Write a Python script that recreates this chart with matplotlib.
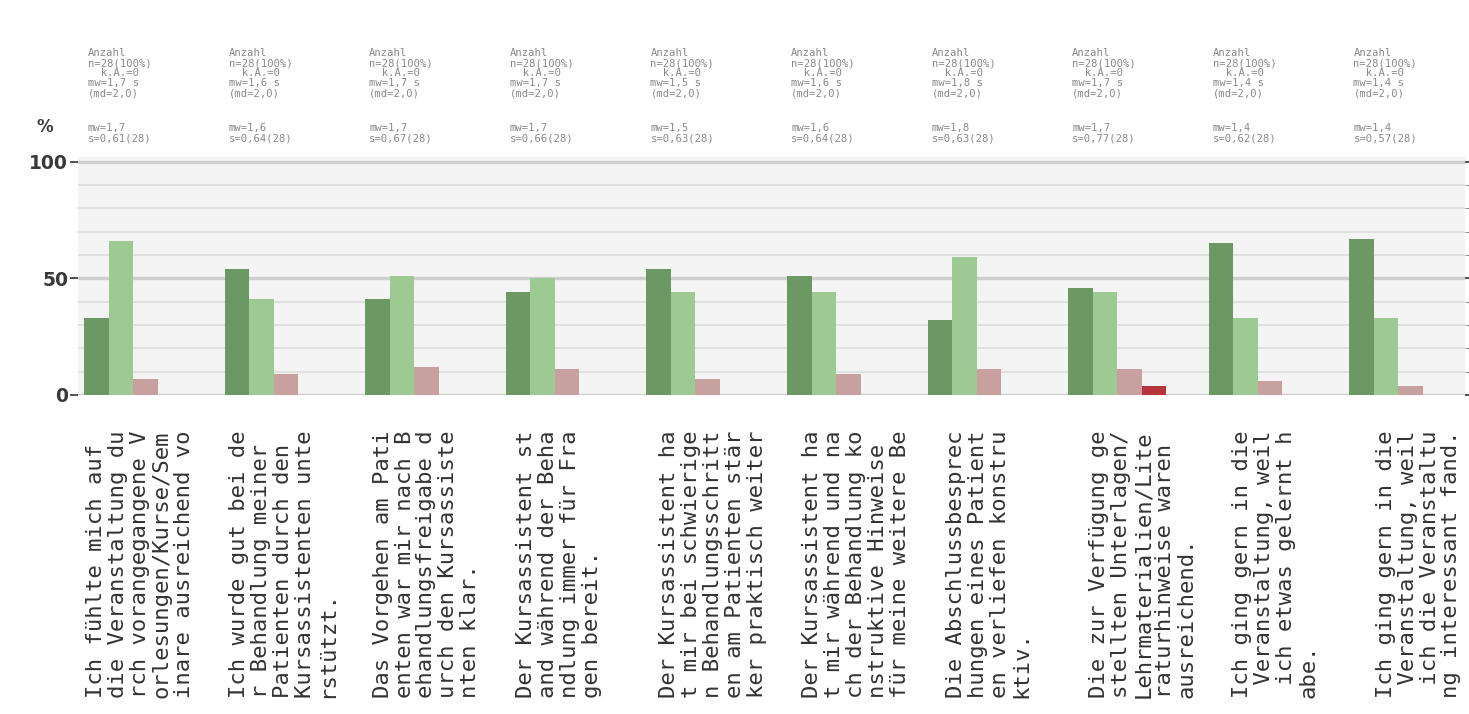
import matplotlib.pyplot as plt
from matplotlib.transforms import blended_transform_factory

# survey items (German, wrapped every 20 characters, cut at 100 like the source)
questions = [
    "Ich fühlte mich auf die Veranstaltung durch vorangegangene Vorlesungen/Kurse/Seminare ausreichend vorbereitet.",
    "Ich wurde gut bei der Behandlung meiner Patienten durch den Kursassistenten unterstützt.",
    "Das Vorgehen am Patienten war mir nach Behandlungsfreigabe durch den Kursassistenten klar.",
    "Der Kursassistent stand während der Behandlung immer für Fragen bereit.",
    "Der Kursassistent hat mir bei schwierigen Behandlungsschritten am Patienten stärker praktisch weitergeholfen.",
    "Der Kursassistent hat mir während und nach der Behandlung konstruktive Hinweise für meine weitere Behandlung gegeben.",
    "Die Abschlussbesprechungen eines Patienten verliefen konstruktiv.",
    "Die zur Verfügung gestellten Unterlagen/Lehrmaterialien/Literaturhinweise waren ausreichend.",
    "Ich ging gern in die Veranstaltung, weil ich etwas gelernt habe.",
    "Ich ging gern in die Veranstaltung, weil ich die Veranstaltung interessant fand.",
]

# percent answers per item
trifft_zu = [33, 54, 41, 44, 54, 51, 32, 46, 65, 67]
eher_zu = [66, 41, 51, 50, 44, 44, 59, 44, 33, 33]
eher_nicht = [7, 9, 12, 11, 7, 9, 11, 11, 6, 4]
nicht_zu = [0, 0, 0, 0, 0, 0, 0, 4, 0, 0]

# small statistics printed above each group
n_answers = [28, 28, 28, 28, 28, 28, 28, 28, 28, 28]
means = ["1,7", "1,6", "1,7", "1,7", "1,5", "1,6", "1,8", "1,7", "1,4", "1,4"]
sds = ["0,61", "0,64", "0,67", "0,66", "0,63", "0,64", "0,63", "0,77", "0,62", "0,57"]

series = [trifft_zu, eher_zu, eher_nicht, nicht_zu]
colors = ["#6c9864", "#9dc992", "#c9a0a0", "#b8343c"]
GREY = "#888888"

W, H = 1469, 714
fig = plt.figure(figsize=(W / 100, H / 100), dpi=100)
ax = fig.add_axes([78 / W, 1 - 395 / H, (1465 - 78) / W, (395 - 157) / H])
ax.set_facecolor("#f4f4f4")

unit = 140.6  # px per group
bw = 24.5 / unit
for k, (vals, c) in enumerate(zip(series, colors)):
    xs = [i + k * bw for i in range(len(vals))]
    ax.bar(xs, vals, width=bw, align="edge", color=c, zorder=3)

ax.set_xlim((78 - 84) / unit, (1465 - 84) / unit)
ax.set_ylim(0, 102)
for s in ax.spines.values():
    s.set_visible(False)

ax.set_yticks([0, 50, 100])
ax.set_yticks(range(10, 100, 10), minor=True)
ax.set_xticks([])
ax.grid(axis="y", which="major", color="#cfcfcf", lw=2.4, zorder=0)
ax.grid(axis="y", which="minor", color="#dedede", lw=1.3, zorder=0)
ax.tick_params(axis="y", which="major", length=6, width=1.5, color="#555555", labelsize=13.5,
               labelcolor="#3a3a3a", pad=1, right=True)
ax.tick_params(axis="y", which="minor", left=False, right=True, length=4, color="#777777")
for t in ax.get_yticklabels():
    t.set_fontweight("bold")

fig.text(45 / W, 1 - 127 / H, "%", fontsize=12, fontweight="bold", color="#3a3a3a",
         ha="center", va="center")

tr = blended_transform_factory(ax.transData, fig.transFigure)
for i, q in enumerate(questions):
    q = q[:100]
    lines = [q[j:j + 20] for j in range(0, len(q), 20)]
    # question text columns run on a slightly wider pitch than the bar groups
    fig.text((86 + 143.3 * i) / W, 1 - 431 / H, "\n".join(lines), rotation=90,
             ha="left", va="top", multialignment="left",
             family="DejaVu Sans Mono", fontsize=16, color="#333333", linespacing=1.12)

    stats = f"Anzahl\nn={n_answers[i]}(100%)\n  k.A.=0\nmw={means[i]} s\n(md=2,0)"
    ax.text(i + 4 / unit, 1 - 48 / H, stats, ha="left", va="top", transform=tr,
            family="DejaVu Sans Mono", fontsize=7.6, color=GREY, linespacing=1.0)
    ax.text(i + 4 / unit, 1 - 123 / H, f"mw={means[i]}\ns={sds[i]}(28)", ha="left", va="top",
            transform=tr, family="DejaVu Sans Mono", fontsize=7.6, color=GREY,
            linespacing=1.05)

fig.savefig("out.png", dpi=100, facecolor="white")
